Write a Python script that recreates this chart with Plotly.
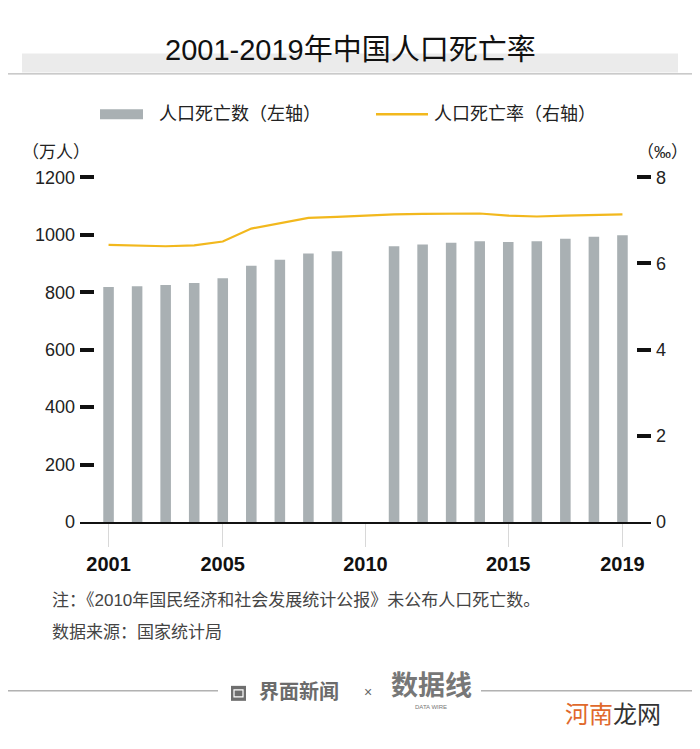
import plotly.graph_objects as go

years = list(range(2001, 2020))
deaths = [818, 821, 825, 832, 849, 892, 913, 935, 943, None,
          960, 966, 972, 977, 975, 977, 986, 993, 998]
rates = [6.43, 6.41, 6.40, 6.42, 6.51, 6.81, 6.93, 7.06, 7.08, 7.11,
         7.14, 7.15, 7.16, 7.16, 7.11, 7.09, 7.11, 7.13, 7.14]
xticks = [2001, 2005, 2010, 2015, 2019]
left_ticks = [0, 200, 400, 600, 800, 1000, 1200]
right_ticks = [0, 2, 4, 6, 8]

BAR_COLOR = "#a9b0b3"
LINE_COLOR = "#f2b81d"
FONT = "Liberation Sans, Noto Sans CJK SC, sans-serif"

# page-pixel layout (the html body adds an 8px offset)
OFF = 8
W, H = 700 - OFF, 749 - OFF
YMAX_L = 1215
YMAX_R = 8 * YMAX_L / 1200
L, R, B = 80, 651, 522
T = B - 345 * YMAX_L / 1200  # so that 1200 lands at y=177

def px(x):
    return (x - L) / (R - L)

def py(y):
    return (B - y) / (B - T)

fig = go.Figure()
fig.add_trace(go.Bar(x=years, y=deaths, width=0.37, marker_color=BAR_COLOR,
                     marker_line_width=0, name="人口死亡数（左轴）", yaxis="y"))
fig.add_trace(go.Scatter(x=years, y=rates, mode="lines",
                         line=dict(color=LINE_COLOR, width=2.2),
                         name="人口死亡率（右轴）", yaxis="y2"))

shapes = []
shapes.append(dict(type="rect", xref="paper", yref="paper", x0=px(22), x1=px(678),
                   y0=py(72), y1=py(53), fillcolor="#ebebeb", line_width=0, layer="below"))
shapes.append(dict(type="line", xref="paper", yref="paper", x0=px(0), x1=px(700),
                   y0=py(73.5), y1=py(73.5), line=dict(color="#a8a8a8", width=1)))
shapes.append(dict(type="rect", xref="paper", yref="paper", x0=px(100), x1=px(143),
                   y0=py(119), y1=py(109), fillcolor=BAR_COLOR, line_width=0))
shapes.append(dict(type="line", xref="paper", yref="paper", x0=px(376), x1=px(428),
                   y0=py(114), y1=py(114), line=dict(color=LINE_COLOR, width=2.5)))
shapes.append(dict(type="line", xref="paper", yref="paper", x0=px(0), x1=px(218),
                   y0=py(691), y1=py(691), line=dict(color="#8a8a8a", width=1)))
shapes.append(dict(type="line", xref="paper", yref="paper", x0=px(481), x1=px(700),
                   y0=py(691), y1=py(691), line=dict(color="#8a8a8a", width=1)))
shapes.append(dict(type="rect", xref="paper", yref="paper", x0=px(231), x1=px(246),
                   y0=py(701), y1=py(686), fillcolor="#6e6e6e", line_width=0))
shapes.append(dict(type="rect", xref="paper", yref="paper", x0=px(234), x1=px(243),
                   y0=py(697), y1=py(690), fillcolor="rgba(0,0,0,0)",
                   line=dict(color="white", width=1.2)))

ann = []
def add_text(x, y, text, size, color="#111", xanchor="left", family=FONT):
    ann.append(dict(xref="paper", yref="paper", x=px(x), y=py(y), text=text,
                    showarrow=False, xanchor=xanchor, yanchor="middle",
                    font=dict(size=size, color=color, family=family)))

add_text(350, 50, "2001-2019年中国人口死亡率", 29, "#111", "center")
add_text(157, 114, "人口死亡数（左轴）", 18, "#222")
add_text(432, 114, "人口死亡率（右轴）", 18, "#222")
add_text(20, 152, "（万人）", 17, "#222")
add_text(690, 152, "（‰）", 17, "#222", "right")
add_text(50, 601, "注：《2010年国民经济和社会发展统计公报》未公布人口死亡数。", 17, "#444")
add_text(50, 633, "数据来源：国家统计局", 17, "#444")
add_text(257, 692, "<b>界面新闻</b>", 20, "#6b6b6b")
add_text(368, 692, "×", 14, "#666", "center")
add_text(431, 686, "<b>数据线</b>", 27, "#777", "center")
add_text(431, 707, "DATA WIRE", 6, "#777", "center")
add_text(563, 715, "<span style='color:#e0692c'>河南</span>龙网", 24, "#333")

fig.update_layout(
    width=W, height=H,
    margin=dict(l=L - OFF, r=W - (R - OFF), t=T - OFF, b=H - (B - OFF), pad=0),
    paper_bgcolor="white", plot_bgcolor="white",
    showlegend=False,
    font=dict(family=FONT, color="#111"),
    shapes=shapes, annotations=ann,
    xaxis=dict(range=[2000, 2020], tickvals=xticks, ticktext=[str(v) for v in xticks],
               showline=True, linecolor="#111", linewidth=2.2,
               ticks="outside", ticklen=23, tickcolor="#d8d8d8", tickwidth=1,
               showgrid=False, zeroline=False,
               tickfont=dict(size=20, color="#111", family=FONT, weight="bold")),
    yaxis=dict(range=[0, YMAX_L], tickvals=left_ticks, showgrid=False, zeroline=False,
               showline=False, ticks="inside", ticklen=14, tickwidth=4, tickcolor="#111",
               ticklabelstandoff=4,
               tickfont=dict(size=18, color="#222", family=FONT)),
    yaxis2=dict(range=[0, YMAX_R], tickvals=right_ticks, overlaying="y", side="right",
                showgrid=False, zeroline=False, showline=False,
                ticks="inside", ticklen=14, tickwidth=4, tickcolor="#111",
                ticklabelstandoff=4,
                tickfont=dict(size=18, color="#222", family=FONT)),
)

fig.write_html("out.html")
